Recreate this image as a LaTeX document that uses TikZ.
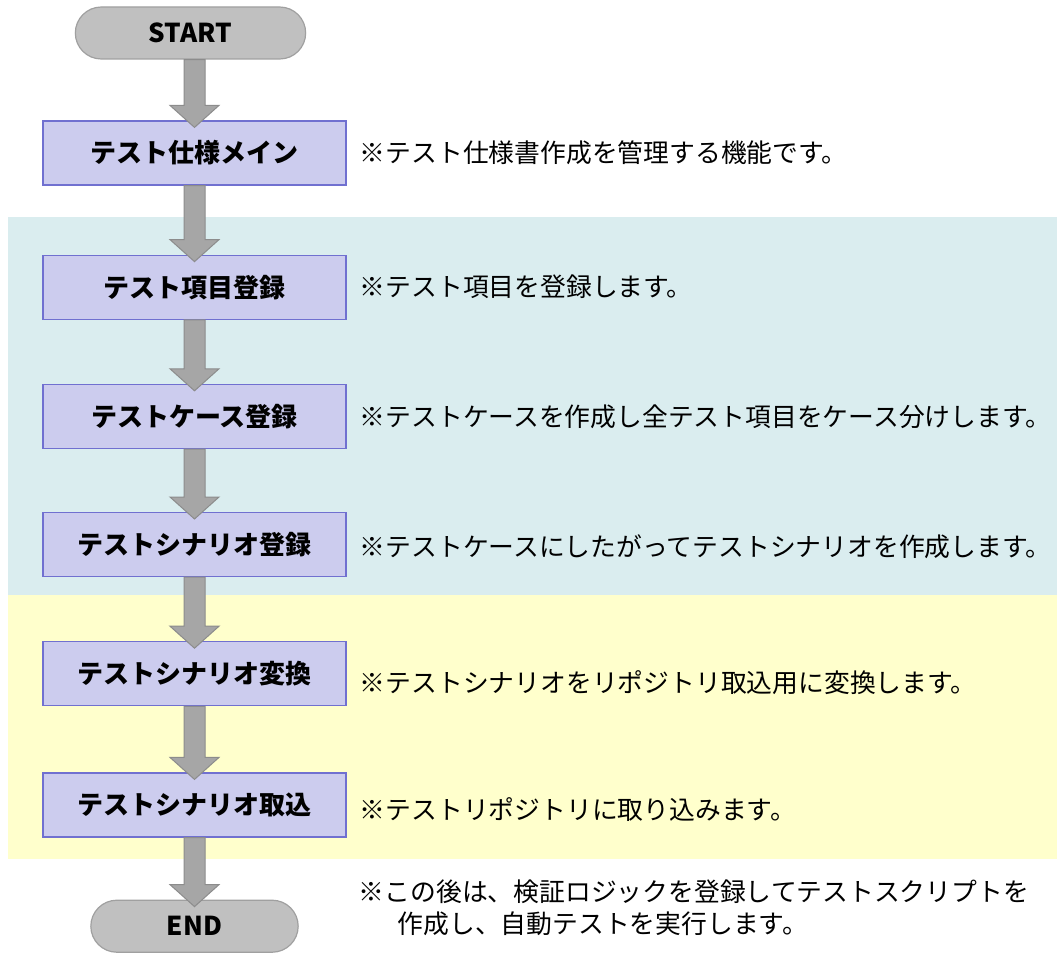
\documentclass[tikz,border=0pt]{standalone}
\usepackage{fontspec}
\setmainfont{Noto Sans CJK JP}
\usetikzlibrary{calc,positioning,shapes.misc}
\definecolor{procfill}{HTML}{CCCCEE}
\definecolor{procline}{HTML}{7070D0}
\definecolor{termfill}{HTML}{C0C0C0}
\definecolor{termline}{HTML}{A0A0A0}
\definecolor{flowfill}{HTML}{A6A6A6}
\definecolor{flowline}{HTML}{8C8C8C}
\definecolor{bandblue}{HTML}{DAEDEF}
\definecolor{bandyellow}{HTML}{FFFFCC}
\newcommand*{\flowarrow}[2]{
  \path (#2.north |- #1.south) coordinate (fa-top) (#2.north) coordinate (fa-tip);
  \filldraw[flow] ($(fa-top)+(-10.5,0)$) -- ($(fa-tip)+(-10.5,-15)$)
    -- ($(fa-tip)+(-24.5,-15)$) -- ($(fa-tip)+(0,7)$) -- ($(fa-tip)+(24.5,-15)$)
    -- ($(fa-tip)+(10.5,-15)$) -- ($(fa-top)+(10.5,0)$) -- cycle;
}

\begin{document}
\begin{tikzpicture}[
        x=1pt,y=-1pt,
        font=\fontsize{25.8}{32}\selectfont,
        term/.style={
          rounded rectangle,draw=termline,fill=termfill,
          line width=1.2pt,minimum height=52pt,
          font=\fontsize{26}{32}\selectfont\bfseries
        },
        proc/.style={
          draw=procline,fill=procfill,line width=1.2pt,
          minimum width=303pt,minimum height=64pt,
          font=\fontsize{26}{32}\selectfont\bfseries
        },
        note/.style={inner sep=0pt,anchor=west,align=left},
        flow/.style={fill=flowfill,draw=flowline,line width=1pt},
      ]
      \useasboundingbox (0,0) rectangle (1057,966);
      \fill[bandblue] (8,217) rectangle (1057,595);
      \fill[bandyellow] (8,595) rectangle (1057,859);

      \node[term,minimum width=237pt] (start) at (190.5,33) {START};
      \node[proc] (main) at (194.5,153) {テスト仕様メイン};
      \node[proc,below=69pt of main] (item) {テスト項目登録};
      \node[proc,below=64pt of item] (case) {テストケース登録};
      \node[proc,below=63pt of case] (scenario) {テストシナリオ登録};
      \node[proc,below=64pt of scenario] (convert) {テストシナリオ変換};
      \node[proc,below=66pt of convert] (import) {テストシナリオ取込};
      \node[term,minimum width=214pt,below=62pt of import] (finish) {END};

      \node[note,right=13pt of main] (mainnote) {※テスト仕様書作成を管理する機能です。};
      \node[note,right=13pt of item] (itemnote) {※テスト項目を登録します。};
      \node[note,right=13pt of case] (casenote) {※テストケースを作成し全テスト項目をケース分けします。};
      \node[note,right=13pt of scenario,yshift=-2pt] (scenarionote) {※テストケースにしたがってテストシナリオを作成します。};
      \node[note,right=13pt of convert,yshift=-9pt] (convertnote) {※テストシナリオをリポジトリ取込用に変換します。};
      \node[note,right=13pt of import,yshift=-5pt] (importnote) {※テストリポジトリに取り込みます。};
      \node[note,right=60pt of finish,yshift=18pt] (finishnote) {※この後は、検証ロジックを登録してテストスクリプトを\\
        \hspace*{1.5em}作成し、自動テストを実行します。};

      \flowarrow{start}{main}
      \flowarrow{main}{item}
      \flowarrow{item}{case}
      \flowarrow{case}{scenario}
      \flowarrow{scenario}{convert}
      \flowarrow{convert}{import}
      \flowarrow{import}{finish}
    \end{tikzpicture}
\end{document}
